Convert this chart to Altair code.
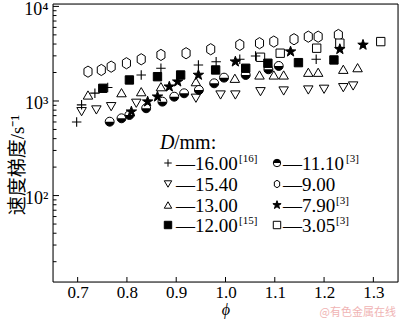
import altair as alt
import pandas as pd

# ---------------- data ----------------
phi_1600 = [0.698, 0.708, 0.735, 0.761, 0.829, 0.869, 0.945, 0.981, 1.029, 1.061, 1.184]
v_1600 = [600, 910, 1210, 1390, 1880, 2220, 2400, 2600, 2760, 2990, 2760]

phi_1540 = [0.708, 0.738, 0.768, 0.819, 0.940, 0.990, 1.020, 1.071, 1.118, 1.168, 1.200, 1.239, 1.259]
v_1540 = [771, 804, 871, 946, 1069, 1157, 1157, 1254, 1276, 1307, 1330, 1383, 1441]

phi_1300 = [0.721, 0.789, 0.829, 0.869, 0.940, 1.019, 1.069, 1.098, 1.118, 1.168, 1.188, 1.239, 1.268]
v_1300 = [1157, 1224, 1254, 1416, 1600, 1738, 1884, 1884, 1884, 2012, 2012, 2163, 2250]

phi_1200 = [0.751, 0.805, 0.862, 0.909, 0.980, 1.041, 1.086, 1.148, 1.220]
v_1200 = [1362, 1668, 1807, 1884, 2128, 2218, 2506, 2543, 2715]

phi_1110 = [0.765, 0.789, 0.805, 0.839, 0.872, 0.896, 0.916, 0.946, 0.977, 0.997, 1.041, 1.087, 1.108]
v_1110 = [604, 656, 711, 838, 984, 1110, 1206, 1307, 1538, 1765, 1884, 2163, 2347]

phi_900 = [0.721, 0.748, 0.768, 0.799, 0.829, 0.869, 0.920, 0.970, 1.029, 1.069, 1.098, 1.139, 1.168, 1.188, 1.229]
v_900 = [2042, 2128, 2306, 2506, 2761, 3069, 3199, 3524, 3917, 4083, 4246, 4498, 4786, 4786, 4990]

phi_790 = [0.809, 0.842, 0.862, 0.886, 0.903, 0.945, 1.020, 1.132, 1.232, 1.279]
v_790 = [771, 984, 1110, 1416, 1600, 1884, 2605, 3324, 3524, 3917]

phi_305 = [1.071, 1.111, 1.185, 1.232, 1.315]
v_305 = [2899, 3199, 3614, 4083, 4246]

x_ticks = [0.7, 0.8, 0.9, 1.0, 1.1, 1.2, 1.3]
y_major = [100, 1000, 10000]
y_minor = [20, 30, 40, 50, 60, 70, 80, 90,
           200, 300, 400, 500, 600, 700, 800, 900,
           2000, 3000, 4000, 5000, 6000, 7000, 8000, 9000]

legend_main = ["—16.00", "—15.40", "—13.00", "—12.00", "—11.10", "—9.00", "—7.90", "—3.05"]
legend_sup = ["[16]", "", "", "[15]", "[3]", "", "[3]", "[3]"]

# ---------------- styling ----------------
SERIF = "Liberation Serif"
W, H = 345, 278
X_DOM = [0.65, 1.35]
Y_DOM = [12.2, 10600]

PLUS = "M-1,0L1,0M0,-1L0,1"
HEX = "M0,-1L0.72,-0.55L0.72,0.55L0,1L-0.72,0.55L-0.72,-0.55Z"
STAR = ("M0,-1L0.235,-0.324L0.951,-0.309L0.38,0.124L0.588,0.809L0,0.4"
        "L-0.588,0.809L-0.38,0.124L-0.951,-0.309L-0.235,-0.324Z")
HALF = "M-1,0A1,1,0,0,0,1,0Z"

xs = alt.Scale(domain=X_DOM, nice=False, zero=False)
ys = alt.Scale(type="log", domain=Y_DOM, nice=False)

x_axis = alt.Axis(values=x_ticks, format=".1f", ticks=False, domain=False, grid=False,
                  labelFont=SERIF, labelFontSize=17, labelColor="black", labelPadding=2)
y_axis = alt.Axis(values=y_major, ticks=False, domain=False, grid=False,
                  labelExpr="datum.value == 100 ? '10²' : datum.value == 1000 ? '10³' : '10⁴'",
                  labelFont=SERIF, labelFontSize=18, labelColor="black", labelPadding=5,
                  labelOffset=3)


def X(field="phi"):
    return alt.X(f"{field}:Q", scale=xs, axis=x_axis, title=None)


def Y(field="v"):
    return alt.Y(f"{field}:Q", scale=ys, axis=y_axis, title=None)


def pts(phi, v, shape, size, filled, sw=1.0):
    df = pd.DataFrame({"phi": phi, "v": v})
    return alt.Chart(df).mark_point(
        shape=shape, size=size, filled=filled,
        fill="black" if filled else "white",
        stroke="black", strokeWidth=sw, opacity=1,
    ).encode(x=X(), y=Y())


def half_circle(phi, v, size):
    a = pts(phi, v, "circle", size, False)
    df = pd.DataFrame({"phi": phi, "v": v})
    b = alt.Chart(df).mark_point(shape=HALF, size=size, filled=True, fill="black",
                                 strokeWidth=0, opacity=1).encode(x=X(), y=Y())
    return [a, b]


xt = alt.Chart(pd.DataFrame({"phi": x_ticks})).mark_rule(color="black", strokeWidth=1).encode(
    x=X(), y=alt.value(H), y2=alt.value(H - 5))
ytM = alt.Chart(pd.DataFrame({"v": y_major})).mark_rule(color="black", strokeWidth=1).encode(
    y=Y(), x=alt.value(0), x2=alt.value(6))
ytm = alt.Chart(pd.DataFrame({"v": y_minor})).mark_rule(color="black", strokeWidth=1).encode(
    y=Y(), x=alt.value(0), x2=alt.value(3.5))

# frame
one = pd.DataFrame({"k": [0]})
frame = [
    alt.Chart(one).mark_rule(color="black", strokeWidth=1).encode(x=alt.value(0), y=alt.value(0), y2=alt.value(H)),
    alt.Chart(one).mark_rule(color="black", strokeWidth=1).encode(x=alt.value(W), y=alt.value(0), y2=alt.value(H)),
    alt.Chart(one).mark_rule(color="black", strokeWidth=1).encode(y=alt.value(0), x=alt.value(0), x2=alt.value(W)),
    alt.Chart(one).mark_rule(color="black", strokeWidth=1).encode(y=alt.value(H), x=alt.value(0), x2=alt.value(W)),
]

layers = [
    xt, ytM, ytm,
    pts(phi_1540, v_1540, "triangle-down", 90, False),
    pts(phi_1300, v_1300, "triangle-up", 90, False),
    pts(phi_900, v_900, HEX, 125, False),
    pts(phi_305, v_305, "square", 70, False),
    *half_circle(phi_1110, v_1110, 80),
    pts(phi_1200, v_1200, "square", 70, True),
    pts(phi_790, v_790, STAR, 120, True),
    pts(phi_1600, v_1600, PLUS, 90, False, 1.1),
]

# ---------------- legend (text marks) ----------------
OX, OY = 53, 4  # plot origin on page
LF = 19
leg_title = [
    alt.Chart(pd.DataFrame({"s": ["D"]})).mark_text(
        font=SERIF, fontSize=20, fontStyle="italic", align="left", baseline="alphabetic", color="black"
    ).encode(text="s:N", x=alt.value(160 - OX), y=alt.value(149 - OY)),
    alt.Chart(pd.DataFrame({"s": ["/mm:"]})).mark_text(
        font=SERIF, fontSize=20, align="left", baseline="alphabetic", color="black"
    ).encode(text="s:N", x=alt.value(174 - OX), y=alt.value(149 - OY)),
]

row_y = [163, 184, 205, 225]
col_sym_x = [168, 277]
col_txt_x = [176, 283]
sup_x = [239, 239, 239, 239, 346, 346, 336, 336]
leg_shapes = [(PLUS, False, "p"), ("triangle-down", False, "n"), ("triangle-up", False, "n"),
              ("square", True, "n"), ("circle", False, "h"), (HEX, False, "n"),
              (STAR, True, "n"), ("square", False, "n")]
leg_layers = []
for i in range(8):
    col, row = divmod(i, 4)
    sx, sy = col_sym_x[col] - OX, row_y[row] - OY
    shape, filled, kind = leg_shapes[i]
    sz = 55 if shape != STAR else 75
    leg_layers.append(alt.Chart(one).mark_point(
        shape=shape, size=sz, filled=filled, fill="black" if filled else "white",
        stroke="black", strokeWidth=1, opacity=1).encode(x=alt.value(sx), y=alt.value(sy)))
    if kind == "h":
        leg_layers.append(alt.Chart(one).mark_point(
            shape="M-1,0A1,1,0,0,1,1,0Z", size=sz, filled=True, fill="black", strokeWidth=0,
            opacity=1).encode(x=alt.value(sx), y=alt.value(sy)))
    leg_layers.append(alt.Chart(pd.DataFrame({"s": [legend_main[i]]})).mark_text(
        font=SERIF, fontSize=LF, align="left", baseline="middle", color="black").encode(
        text="s:N", x=alt.value(col_txt_x[col] - OX), y=alt.value(sy + 1)))
    if legend_sup[i]:
        leg_layers.append(alt.Chart(pd.DataFrame({"s": [legend_sup[i]]})).mark_text(
            font=SERIF, fontSize=11, align="left", baseline="middle", color="black").encode(
            text="s:N", x=alt.value(sup_x[i] - OX), y=alt.value(sy - 4)))

xtitle = alt.Chart(pd.DataFrame({"s": ["ϕ"]})).mark_text(
    font=SERIF, fontSize=16, fontStyle="italic", align="center", baseline="middle", color="black"
).encode(text="s:N", x=alt.value(226 - OX), y=alt.value(310 - OY))

ytitle = alt.Chart(pd.DataFrame({"s": ["速度梯度/s⁻¹"]})).mark_text(
    font="Liberation Serif, Noto Sans CJK SC", fontSize=19, angle=270, align="center",
    baseline="middle", color="black").encode(text="s:N", x=alt.value(18 - OX), y=alt.value(165 - OY))

wm = alt.Chart(pd.DataFrame({"s": ["@有色金属在线"]})).mark_text(
    font="Noto Sans CJK SC", fontSize=11, align="right", baseline="middle", color="#f0b4b4").encode(
    text="s:N", x=alt.value(396 - OX), y=alt.value(313 - OY))

chart = alt.layer(*layers, *frame, *leg_title, *leg_layers, xtitle, ytitle, wm).properties(
    width=W, height=H,
    autosize=alt.AutoSizeParams(type="none"),
    padding={"left": OX, "top": OY, "right": 400 - OX - W, "bottom": 322 - OY - H},
).configure_view(strokeWidth=0).configure(background="white")

chart.save("out.html", embed_options={"renderer": "svg", "actions": False})
